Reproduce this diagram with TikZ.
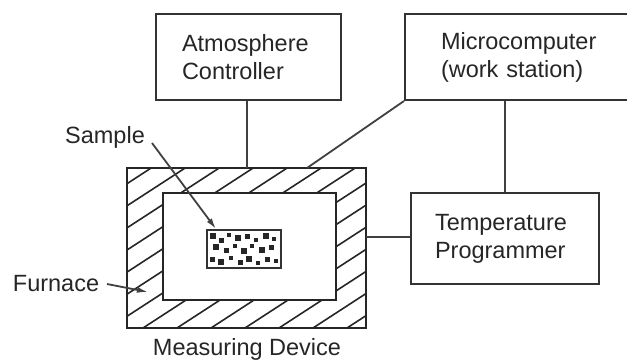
\documentclass[tikz,border=0pt]{standalone}
\usepackage{fontspec}
\setmainfont{Liberation Sans}
\usetikzlibrary{arrows.meta}
\begin{document}
\begin{tikzpicture}[x=1pt,y=-1pt,
  every node/.style={font=\fontsize{23.5}{28}\selectfont, text=black!85},
  boxnode/.style={draw=black!80, line width=2pt, rectangle, align=left, inner ysep=0pt},
  conn/.style={draw=black!75, line width=1.8pt},
  lbl/.style={inner sep=0pt},
  arr/.style={conn, -{Latex[length=11pt,width=6pt]}},
  hatch/.style={draw=black!85, line width=1.6pt}]
\clip (0,0) rectangle (627,362);
\fill[white] (0,0) rectangle (627,362);
% boxes
\node[boxnode, anchor=north west, minimum width=185pt, minimum height=86pt, text width=133pt] (atm) at (155,13) {Atmosphere\\Controller};
\node[boxnode, anchor=north west, minimum height=86pt, text width=165pt, inner xsep=36pt] (mic) at (404,13) {Microcomputer\\(work station)};
\node[boxnode, anchor=north west, minimum width=188pt, minimum height=91pt, text width=140pt] (temp) at (410,192) {Temperature\\Programmer};
% furnace
\node[minimum width=239pt, minimum height=160pt, inner sep=0pt] (furn) at (246.5,248) {};
\node[minimum width=173pt, minimum height=107pt, inner sep=0pt] (inner) at (249.5,246.5) {};
\begin{scope}
  \clip (furn.north west) rectangle (furn.south east);
  \foreach \k in {-12,...,12} {
    \draw[hatch] (143+34*\k,328) ++(-260,169) -- ++(520,-338);
  }
\end{scope}
\fill[white] (inner.north west) rectangle (inner.south east);
\draw[draw=black!85, line width=2pt] (furn.north west) rectangle (furn.south east);
\draw[draw=black!85, line width=2pt] (inner.north west) rectangle (inner.south east);
% sample
\node[draw=black!80, line width=2.2pt, minimum width=74pt, minimum height=38pt, inner sep=0pt] (sample) at (244,249) {};
\begin{scope}[black!85]
  \foreach \px/\py/\s in {213/236/3, 221/240/2.5, 229/235/2, 238/238/3, 247/236/2.5, 256/240/2, 266/236/3, 274/239/2,
    216/247/3, 226/250/2.5, 235/246/2, 244/251/3, 252/246/2, 262/250/3, 271/247/2.5,
    212/259/2.5, 221/262/3, 231/258/2, 240/262/2.5, 249/259/3, 258/263/2, 267/259/2.5, 276/261/2} {
    \fill (\px-\s,\py-\s) rectangle (\px+\s,\py+\s);
  }
\end{scope}
% connectors
\coordinate (ftopA) at (247,168);
\coordinate (ftopM) at (307,168);
\coordinate (fright) at (366,237);
\coordinate (vx) at (505,0);
\draw[conn] (atm.south -| ftopA) -- (ftopA);
\draw[conn] (mic.south west) -- (ftopM);
\draw[conn] (mic.south -| vx) -- (temp.north -| vx);
\draw[conn] (temp.west |- fright) -- (fright);
% labels
\node[lbl] (slbl) at (105,137) {Sample};
\node[lbl] (flbl) at (56,284) {Furnace};
\node[lbl] (mlbl) at (247,349) {Measuring Device};
\coordinate (sarr) at (216,229);
\coordinate (farr) at (148,292);
\coordinate (sstart) at (152,143);
\coordinate (fstart) at (107,284);
\draw[arr] (sstart) -- (sarr);
\draw[arr] (fstart) -- (farr);
\end{tikzpicture}
\end{document}
